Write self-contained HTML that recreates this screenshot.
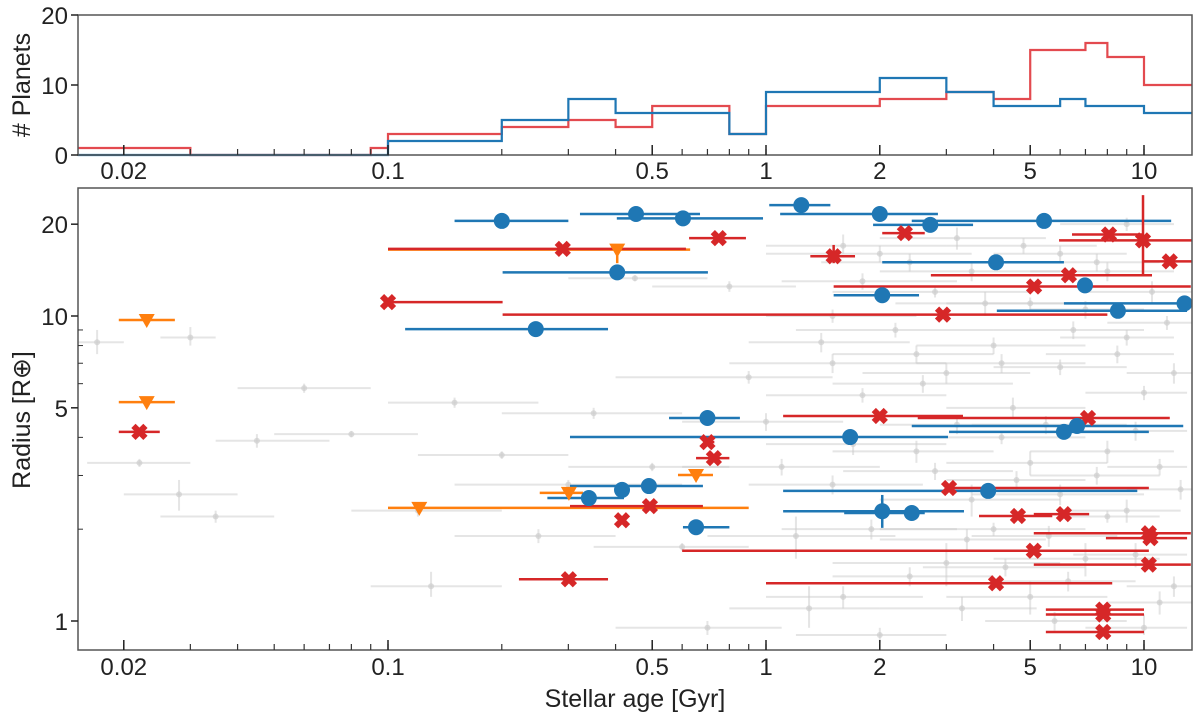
<!DOCTYPE html>
<html><head><meta charset="utf-8">
<style>
html,body{margin:0;padding:0;background:#fff;}
svg{display:block;font-family:"Liberation Sans",sans-serif;}
</style></head>
<body>
<svg id="chart" width="1200" height="722" viewBox="0 0 1200 722" xmlns="http://www.w3.org/2000/svg">
<g id="gray"></g>
<g id="hist"></g>
<g id="marks"></g>
<g id="axes"></g>
</svg>
<script>
// histogram data
const histEdges = [0.0151,0.03,0.09,0.1,0.2,0.3,0.4,0.5,0.8,1,2,3,4,5,6,7,8,10,13.4];
const histRed  = [1,0,1,3,4,5,4,7,3,7,8,9,8,15,15,16,14,10];
const histBlue = [0,0,0,2,5,8,6,6,3,9,11,9,7,7,8,7,7,6];
// scatter data: [age, ageLo, ageHi, radius]
const bluePts = [
[0.20,0.150,0.30,20.5],[0.453,0.322,0.669,21.6],[0.603,0.403,0.982,20.9],[1.24,1.02,1.48,23.1],
[2.0,1.09,2.85,21.6],[2.72,1.92,3.53,19.9],[5.44,2.43,11.8,20.5],[4.06,2.03,6.14,15.0],
[2.03,1.51,2.54,11.7],[6.98,6.98,6.98,12.6],[12.8,6.14,13.8,11.0],[8.53,4.08,13.0,10.4],
[0.246,0.111,0.382,9.06],[0.404,0.201,0.702,13.9],[0.70,0.554,0.853,4.63],[1.67,0.303,3.03,4.01],
[6.14,3.05,10.3,4.17],[6.65,2.43,12.7,4.36],[3.87,1.11,9.6,2.67],[2.03,1.11,3.34,2.29],
[2.43,1.61,2.63,2.26],[0.49,0.303,0.681,2.77],[0.416,0.416,0.416,2.69],[0.34,0.264,0.421,2.53],[0.653,0.603,0.80,2.03]
];
const redPts = [
[0.29,0.10,0.614,16.6],[0.75,0.626,0.885,18.0],[0.10,0.10,0.201,11.1],[2.33,2.03,2.63,18.7],
[1.51,1.31,1.72,15.7],[8.08,6.45,9.9,18.5],[9.94,5.96,13.8,17.7],[11.7,9.9,13.5,15.1],
[6.33,2.73,10.5,13.6],[5.12,1.51,13.3,12.5],[2.94,0.201,8.0,10.1],[0.70,0.683,0.73,3.86],
[0.728,0.653,0.80,3.42],[2.0,1.11,3.32,4.70],[7.11,2.52,11.7,4.63],[3.05,3.05,10.3,2.73],
[4.64,3.66,5.72,2.21],[6.14,5.11,7.16,2.24],[10.3,5.11,13.3,1.94],[10.4,7.93,13.0,1.87],
[5.11,0.60,10.3,1.70],[10.3,5.11,13.3,1.53],[4.06,1.0,8.24,1.33],[7.8,5.5,10.0,1.09],
[7.8,5.5,10.0,1.05],[7.8,5.5,10.0,0.92],[0.416,0.416,0.416,2.14],[0.493,0.303,0.681,2.38],
[0.301,0.222,0.382,1.37],[0.022,0.0194,0.0249,4.17]
];
const redYErr = [[1.51,14.9,17.1],[9.94,13.7,24.9]];
const orangePts = [
[0.023,0.0194,0.0273,9.7],[0.023,0.0194,0.0273,5.22],[0.404,0.10,0.63,16.5],
[0.653,0.585,0.724,3.01],[0.301,0.252,0.328,2.63],[0.121,0.10,0.90,2.35]
];
const blueYErr = [[2.03,2.02,2.59]];
// gray sample: [age, ageLo, ageHi, R, Rlo, Rhi]
const grayPts = [
[0.017,0.015,0.02,8.2,7.5,9],[0.03,0.025,0.035,8.5,8,9.2],[0.045,0.035,0.07,3.9,3.7,4.1],[0.028,0.02,0.04,2.6,2.3,2.9],
[0.035,0.025,0.05,2.2,2.1,2.3],[0.06,0.04,0.09,5.8,5.6,6],[0.08,0.05,0.12,4.1,4,4.2],[0.022,0.016,0.03,3.3,3.2,3.4],
[0.12,0.08,0.2,2.3,2.2,2.4],[0.15,0.1,0.25,5.2,5,5.4],[0.2,0.12,0.3,3.5,3.4,3.6],[0.13,0.09,0.2,1.3,1.2,1.45],
[0.25,0.15,0.4,1.9,1.8,2],[0.35,0.2,0.6,4.8,4.6,5],[0.5,0.3,0.8,3.2,3.1,3.3],[0.45,0.3,0.7,13.3,13,13.6],
[0.8,0.5,1.2,12.5,12,13],[0.9,0.4,1.5,6.3,6,6.6],[1.1,0.6,2,3.2,3,3.4],[1.2,0.7,2.2,1.9,1.6,2.2],
[1.3,0.8,2,1.1,0.95,1.3],[1.5,0.8,3,7,6.5,7.5],[1.8,1,3,5.5,5.2,5.8],[2.2,1.2,4,9,8.5,9.5],
[2.5,1.5,4,3.6,3.3,3.9],[3,1.8,5,6.5,6,7],[3.5,2,6,2.5,2.2,2.8],[4,2.5,7,8,7.5,8.5],
[4.5,3,7,5,4.6,5.4],[5,3,8,3.3,3,3.6],[6,4,9,6.8,6.4,7.2],[7,5,10,10.5,9.8,11.2],
[8,5,12,3.6,3.3,3.9],[9,6,12,8.5,8,9],[10,7,13,5.6,5.3,5.9],[11,8,13,3.2,3,3.4],
[3,1.5,6,1.55,1.3,1.8],[5,3,8,1.2,1.05,1.35],[7,4,11,1.6,1.4,1.8],[4,2,7,2,1.9,2.1],
[6,3.5,10,2.6,2.4,2.8],[2,1,3.5,16,15,17],[3.5,2,6,14,13,15],[6,4,9,16,15,17],
[9,6,12,20,19,21],[1.5,1,2.5,10,9.5,10.5],[2.8,1.5,5,12,11.5,12.5],[5,3,8,11,10.5,11.5],
[8,5,12,14,13,15],[0.7,0.4,1.1,0.95,0.9,1.0],[2,1.2,3,0.9,0.85,0.95],[12,9,13.4,1.3,1.2,1.4],
[10,7,13,0.95,0.9,1.05],[1,0.6,1.6,4.5,4.2,4.8],[2.5,1.5,4,7.5,7,8],[4.2,2,7,4,3.8,4.2],
[8,6,11,2.2,2.1,2.3],[0.3,0.15,0.6,2.8,2.7,2.9],[0.6,0.35,0.9,1.75,1.7,1.8],
[1.6,1.0,3.0,17,16,18.5],[2.4,1.4,4.5,15,14,16],[3.2,2.0,5.5,18,16.5,19.5],[4.8,3.0,7.5,17,16,18],
[7.5,5,11,15,14,16],[10.5,7,13.4,12,11,13],[1.8,1.1,3.2,13,12.2,13.8],[3.8,2.2,6.5,11,10,12],
[6.5,4,10,9,8.4,9.6],[11.5,8,13.4,9.5,9,10],[1.4,0.9,2.4,8.2,7.6,8.8],[2.6,1.5,4.5,6,5.6,6.4],
[4.2,2.5,7,7,6.5,7.5],[8.5,5.5,12,7.5,7,8],[12,9,13.4,6.5,6,7],[1.7,1,3,3.8,3.5,4.1],
[3.2,2,5.5,4.4,4.1,4.7],[5.5,3.5,9,4.4,4.1,4.7],[9.5,6.5,13,4.2,3.9,4.5],[1.5,0.9,2.6,2.8,2.6,3],
[2.8,1.6,4.5,3.1,2.9,3.3],[4.6,3,7,2.9,2.7,3.1],[7.5,5,11,3,2.8,3.2],[12.5,9,13.4,2.7,2.5,2.9],
[1.9,1.1,3.2,2,1.85,2.15],[3.4,2,5.5,1.85,1.7,2],[5.6,3.5,8.5,1.9,1.75,2.05],[9,6,12.5,2.3,2.1,2.5],
[2.4,1.5,4,1.4,1.3,1.5],[4.3,2.6,7,1.5,1.4,1.6],[6.3,4,9.5,1.35,1.25,1.45],[9.5,6.5,13,1.65,1.5,1.8],
[1.6,1,2.6,1.2,1.1,1.3],[3.3,2,5.2,1.1,1.0,1.2],[5.8,3.8,9,1.0,0.93,1.07],[11,8,13.4,1.15,1.05,1.25]
];
const xTickVals = [0.02,0.1,0.5,1,2,5,10];
const xTickLabels = ["0.02","0.1","0.5","1","2","5","10"];
const rTickVals = [1,5,10,20];
const rTickLabels = ["1","5","10","20"];
const hTickVals = [0,10,20];
const hTickLabels = ["0","10","20"];

const NS="http://www.w3.org/2000/svg";
const L=78,R=1192,HT=15,HB=155,BT=188,BB=650;
const xs = a => 766 + 378*Math.log10(a);
const ys = r => 621 - 305*Math.log10(r);
const hy = v => 155 - 7*v;
function mk(tag,parent,attrs){const e=document.createElementNS(NS,tag);for(const k in attrs)e.setAttribute(k,attrs[k]);parent.appendChild(e);return e;}
const gG=document.getElementById('gray'),gH=document.getElementById('hist'),gM=document.getElementById('marks'),gA=document.getElementById('axes');

const defs=mk('defs',document.getElementById('chart'),{});
const cp=mk('clipPath',defs,{id:'clipB'});mk('rect',cp,{x:L,y:BT,width:R-L,height:BB-BT});
gG.setAttribute('clip-path','url(#clipB)');gM.setAttribute('clip-path','url(#clipB)');

grayPts.forEach(p=>{
  const g=mk('g',gG,{stroke:'#cccccc','stroke-opacity':0.5,'stroke-width':2});
  
  
  mk('line',g,{x1:xs(p[1]),x2:xs(p[2]),y1:ys(p[3]),y2:ys(p[3])});
  mk('line',g,{x1:xs(p[0]),x2:xs(p[0]),y1:ys(p[4]),y2:ys(p[5])});
  mk('circle',g,{cx:xs(p[0]),cy:ys(p[3]),r:3,fill:'#cfcfcf',stroke:'none','fill-opacity':0.7});
});

function step(vals,color,name){
  let d='';
  for(let i=0;i<vals.length;i++){
    const x0=xs(histEdges[i]),x1=xs(histEdges[i+1]),y=hy(vals[i]);
    d+=(i===0?'M':'L')+x0+','+y+'L'+x1+','+y;
  }
  const p=mk('path',gH,{d:d,fill:'none',stroke:color,'stroke-width':2.2});
  
  
}
step(histRed,'#e34a4f','hist-red');
step(histBlue,'#1f77b4','hist-blue');

function xbar(p,color){mk('line',gM,{x1:xs(p[1]),x2:xs(p[2]),y1:ys(p[3]),y2:ys(p[3]),stroke:color,'stroke-width':2.5});}
orangePts.forEach(p=>xbar(p,'#ff7f0e'));
redPts.forEach(p=>xbar(p,'#d62728'));
bluePts.forEach(p=>xbar(p,'#1f77b4'));
redYErr.forEach(e=>{mk('line',gM,{x1:xs(e[0]),x2:xs(e[0]),y1:ys(e[1]),y2:ys(e[2]),stroke:'#d62728','stroke-width':2.5});});
blueYErr.forEach(e=>{mk('line',gM,{x1:xs(e[0]),x2:xs(e[0]),y1:ys(e[1]),y2:ys(e[2]),stroke:'#1f77b4','stroke-width':2.5});});
mk('line',gM,{x1:xs(0.404),x2:xs(0.404),y1:ys(16.5),y2:ys(14.9),stroke:'#ff7f0e','stroke-width':2.5});
orangePts.forEach(p=>{
  const x=xs(p[0]),y=ys(p[3]);
  const t=mk('path',gM,{d:`M${x-8},${y-6}L${x+8},${y-6}L${x},${y+8}Z`,fill:'#ff7f0e'});
  
  
});
redPts.forEach(p=>{
  const x=xs(p[0]),y=ys(p[3]);
  const g=mk('g',gM,{stroke:'#d62728','stroke-width':6,'stroke-linecap':'butt'});
  
  
  mk('line',g,{x1:x-6,y1:y-6,x2:x+6,y2:y+6});
  mk('line',g,{x1:x-6,y1:y+6,x2:x+6,y2:y-6});
});
bluePts.forEach(p=>{
  const c=mk('circle',gM,{cx:xs(p[0]),cy:ys(p[3]),r:8,fill:'#1f77b4'});
  
  
});

[[HT,HB,'hist-frame'],[BT,BB,'scatter-frame']].forEach(f=>{
  const r=mk('rect',gA,{x:L,y:f[0],width:R-L,height:f[1]-f[0],fill:'none',stroke:'#555','stroke-width':1.5});
  
  
});
const minor=[];
for(let d=-2;d<=1;d++)for(let m=1;m<=9;m++){const v=m*Math.pow(10,d);if(v>0.0151&&v<13.4)minor.push(v);}
minor.forEach(v=>{
  const x=xs(v);
  [HB,BB].forEach(b=>mk('line',gA,{x1:x,x2:x,y1:b,y2:b-6,stroke:'#333','stroke-width':1.2}));
});
xTickVals.forEach((v,i)=>{
  const x=xs(v);
  [HB,BB].forEach(b=>mk('line',gA,{x1:x,x2:x,y1:b,y2:b-10,stroke:'#222','stroke-width':1.5}));
  const t1=mk('text',gA,{x:x,y:179,'text-anchor':'middle','font-size':24,fill:'#222'});t1.textContent=xTickLabels[i];
  
  
  const t2=mk('text',gA,{x:x,y:675,'text-anchor':'middle','font-size':24,fill:'#222'});t2.textContent=xTickLabels[i];
  
  
});
hTickVals.forEach((v,i)=>{
  const y=hy(v);
  mk('line',gA,{x1:L-7,x2:L,y1:y,y2:y,stroke:'#222','stroke-width':1.5});
  const t=mk('text',gA,{x:L-10,y:y+9,'text-anchor':'end','font-size':24,fill:'#222'});t.textContent=hTickLabels[i];
  
  
});
rTickVals.forEach((v,i)=>{
  const y=ys(v);
  mk('line',gA,{x1:L-7,x2:L,y1:y,y2:y,stroke:'#222','stroke-width':1.5});
  const t=mk('text',gA,{x:L-10,y:y+9,'text-anchor':'end','font-size':24,fill:'#222'});t.textContent=rTickLabels[i];
  
  
});
for(let v=1;v<=20;v++){if([1,5,10,20].includes(v))continue;if(v>10&&v%10)continue;const y=ys(v);mk('line',gA,{x1:L,x2:L+5,y1:y,y2:y,stroke:'#333','stroke-width':1});}
</script>
<svg style="position:absolute;left:0;top:0" width="1200" height="722">
<text x="30" y="85" transform="rotate(-90 30 85)" text-anchor="middle" font-family="Liberation Sans, sans-serif" font-size="25" fill="#222"># Planets</text>
<text x="30" y="420" transform="rotate(-90 30 420)" text-anchor="middle" font-family="Liberation Sans, DejaVu Sans, sans-serif" font-size="25" fill="#222">Radius [R⊕]</text>
<text x="635" y="707" text-anchor="middle" font-family="Liberation Sans, sans-serif" font-size="25" fill="#222">Stellar age [Gyr]</text>
</svg>
</body></html>
